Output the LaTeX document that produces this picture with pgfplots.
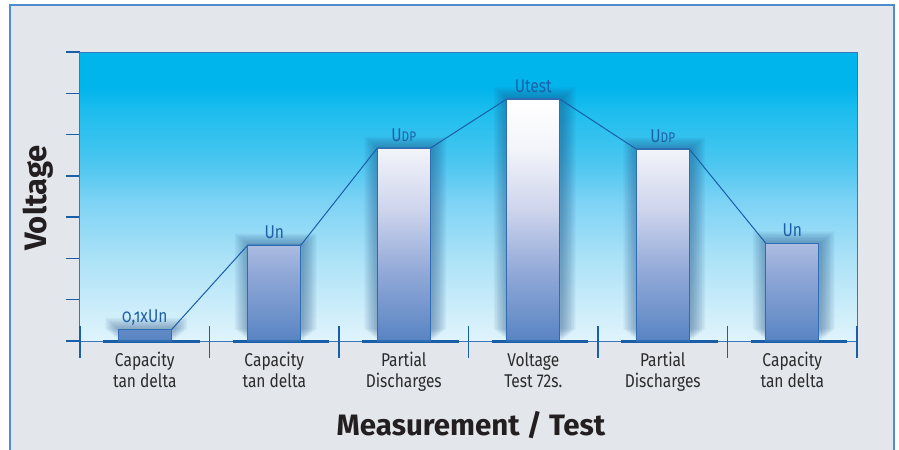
\documentclass[border=0pt]{standalone}
\usepackage{fontspec}
\setmainfont{Fira Sans}[FakeStretch=0.84]
\newfontfamily\osf{Fira Sans}[FakeStretch=0.84, Numbers=OldStyle]
\newfontfamily\titlefont{Fira Sans}
\usepackage{pgfplots}
\usepackage{pgfplotstable}
\pgfplotsset{compat=1.18}

\definecolor{frameblue}{HTML}{4E8DCC}
\definecolor{framebg}{HTML}{E3E6EB}
\definecolor{darkblue}{HTML}{1A5EA8}
\definecolor{axisblue}{HTML}{3677BE}
\definecolor{barborder}{HTML}{2E6DB4}
\definecolor{labelblue}{HTML}{1F5FA8}
\definecolor{textgray}{HTML}{2B2B2B}
\definecolor{titleink}{HTML}{231F20}
\definecolor{shadowblue}{HTML}{1B4A80}

% plot area background, bottom (25bp) to top (75bp)
\definecolor{bg0}{HTML}{E0F4FC}
\definecolor{bg1}{HTML}{ADE2F7}
\definecolor{bg2}{HTML}{7ED3F5}
\definecolor{bg3}{HTML}{4AC6F0}
\definecolor{bg4}{HTML}{1CBDEE}
\definecolor{bg5}{HTML}{00B4EC}
\pgfdeclareverticalshading{bgshade}{100bp}{color(0bp)=(bg0); color(25bp)=(bg0); color(39bp)=(bg1); color(49bp)=(bg2); color(56bp)=(bg3); color(65bp)=(bg4); color(69bp)=(bg5); color(100bp)=(bg5)}

% bars, white at top to blue at bottom
\definecolor{b0}{HTML}{5884C3}
\definecolor{b1}{HTML}{95ABD9}
\definecolor{b2}{HTML}{CDD4EC}
\definecolor{b3}{HTML}{F4F5FA}
\pgfdeclareverticalshading{barshade}{100bp}{color(0bp)=(b0); color(25bp)=(b0); color(40bp)=(b1); color(52bp)=(b2); color(65bp)=(b3); color(75bp)=(white); color(100bp)=(white)}

\newcommand\udp{U{\fontsize{14bp}{14bp}\selectfont DP}}
\newcommand\lowun{{\osf 0,1xUn}}

\pgfplotstableread{
x y    label
0 0.27 \lowun
1 2.32 Un
2 4.67 \udp
3 5.86 Utest
4 4.65 \udp
5 2.37 Un
}\steps

\begin{document}
\begin{tikzpicture}
\fill[white] (0,0) rectangle (899bp,-450bp);
\useasboundingbox (0,0) rectangle (899bp,-450bp);
\fill[framebg] (10bp,-5bp) rectangle (894bp,-460bp);
\draw[frameblue, line width=1.5bp] (10bp,-460bp) -- (10bp,-5bp) -- (894bp,-5bp) -- (894bp,-460bp);

\begin{axis}[
  at={(80bp,-341bp)}, anchor=south west,
  scale only axis, width=777bp, height=289bp,
  xmin=-0.5, xmax=5.5, ymin=0, ymax=7,
  clip=false,
  axis background/.style={shading=bgshade},
  axis line style={draw=axisblue, line width=1bp},
  xtick={0,1,2,3,4,5},
  xticklabels={Capacity\\tan delta, Capacity\\tan delta, Partial\\Discharges, Voltage\\Test 72s., Partial\\Discharges, Capacity\\tan delta},
  xtick style={draw=none},
  xticklabel style={align=center, font=\fontsize{18.5bp}{21bp}\selectfont, text=textgray, yshift=6bp},
  ytick={0,1,2,3,4,5,6,7}, yticklabels={},
  ytick pos=left, tick align=outside, major tick length=14bp,
  ytick style={draw=darkblue, line width=1.5bp},
]
% thick segments on the baseline
\addplot[darkblue, line width=3bp, unbounded coords=jump, forget plot] coordinates {
  (-0.32,0) (0.425,0) (0.5,nan)
  (0.68,0) (1.425,0) (1.5,nan)
  (1.68,0) (2.425,0) (2.5,nan)
  (2.68,0) (3.425,0) (3.5,nan)
  (3.68,0) (4.425,0) (4.5,nan)
  (4.68,0) (5.425,0)};
% separators between the categories
\foreach \s in {-0.5,0.5,1.5,2.5,3.5,4.5,5.5} {
  \edef\tmp{\noexpand\draw[darkblue, line width=1.5bp] ([yshift=15bp]axis cs:\s,0) -- ([yshift=-17bp]axis cs:\s,0);}
  \tmp
}
% soft glow round the bars
\pgfplotsinvokeforeach{1,...,9}{
  \addplot[ybar, bar width={53bp+3.2bp*#1}, bar shift=0pt, draw=none,
    fill=shadowblue, fill opacity=0.06, xshift=1.5bp, yshift={1.3bp*#1}, forget plot]
    table[x=x, y=y] {\steps};
}
% line joining the bar tops
\addplot[darkblue, line width=1bp, forget plot] coordinates {
  (0.205,0.27) (0.795,2.32) (1.205,2.32) (1.795,4.67) (2.205,4.67)
  (2.795,5.86) (3.205,5.86) (3.795,4.65) (4.205,4.65) (4.795,2.37)};
% bars
\addplot[ybar, bar width=53bp, bar shift=0pt, draw=barborder, line width=1.2bp,
  shade, shading=barshade]
  table[x=x, y=y] {\steps};
% bar labels
\addplot[draw=none, mark=none, nodes near coords, point meta=explicit symbolic,
  every node near coord/.append style={anchor=base, inner sep=0pt, yshift=7bp,
    text=labelblue, font=\fontsize{18.5bp}{18bp}\selectfont}]
  table[x=x, y=y, meta=label] {\steps};
\end{axis}

\node[rotate=90, text=titleink, font=\titlefont\bfseries\fontsize{31bp}{31bp}\selectfont]
  at (38bp,-198bp) {Voltage};
\node[anchor=base, text=titleink, font=\titlefont\bfseries\fontsize{29.5bp}{30bp}\selectfont]
  at (471bp,-435bp) {Measurement / Test};
\end{tikzpicture}
\end{document}
